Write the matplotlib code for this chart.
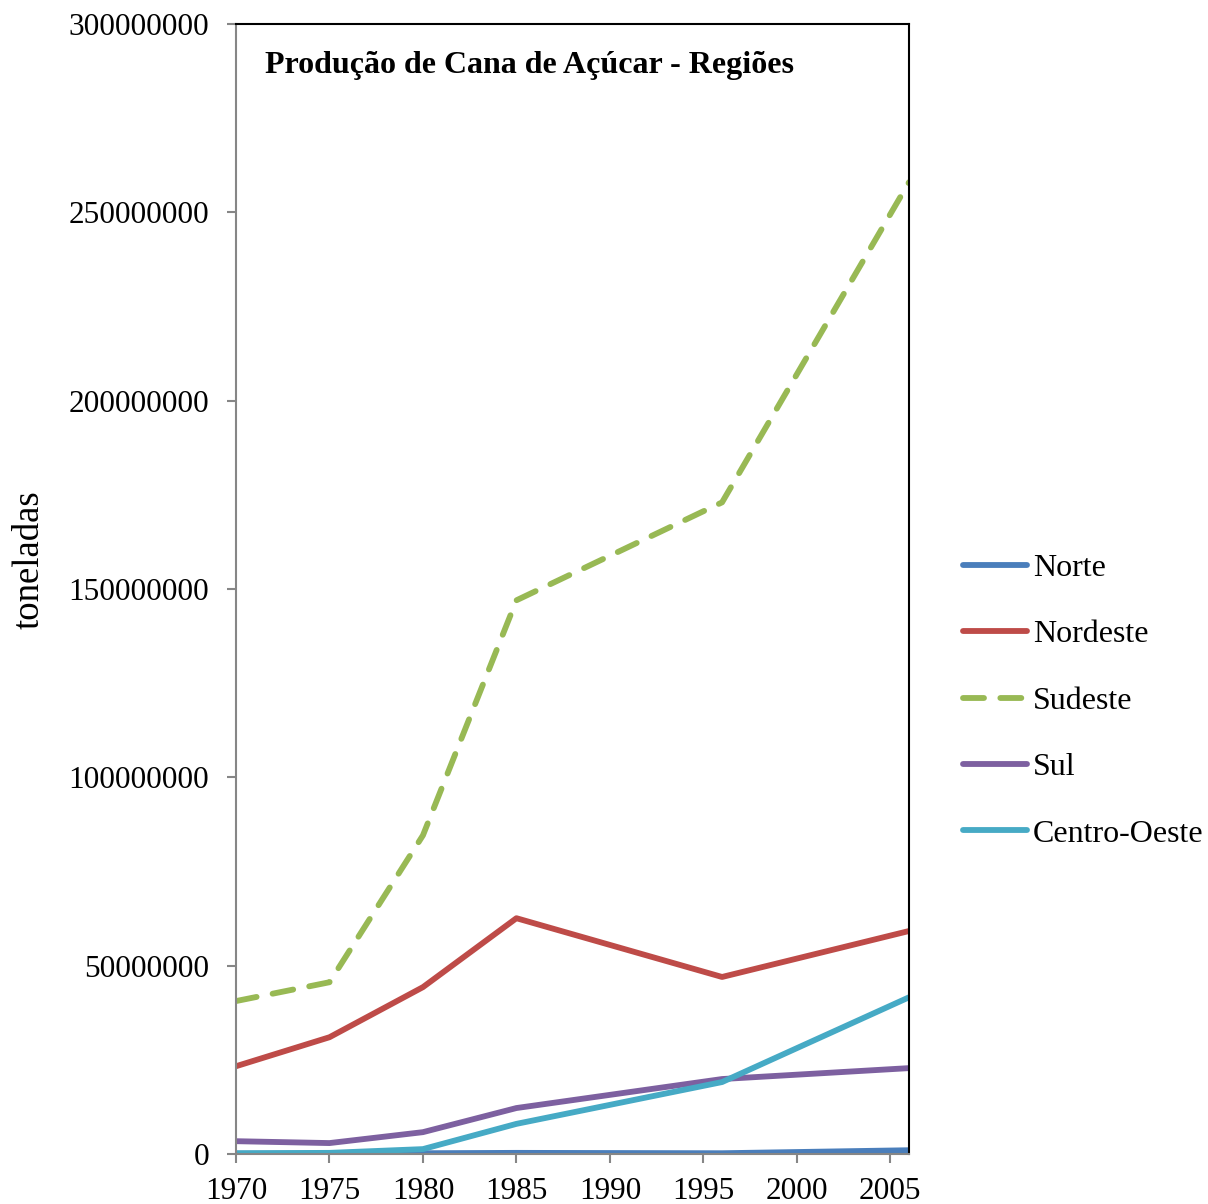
import matplotlib.pyplot as plt

# anos dos censos agropecuarios
years = [1970, 1975, 1980, 1985, 1996, 2006]

norte = [100000, 120000, 200000, 300000, 200000, 1000000]
nordeste = [23300000, 31000000, 44300000, 62600000, 47000000, 59200000]
sudeste = [40600000, 45600000, 84600000, 147000000, 173000000, 258000000]
sul = [3400000, 2900000, 5800000, 12200000, 19900000, 22800000]
centro_oeste = [200000, 300000, 1300000, 8000000, 19100000, 41600000]

regions = ["Norte", "Nordeste", "Sudeste", "Sul", "Centro-Oeste"]
colors = ["#4A7EBB", "#BE4B48", "#98B954", "#7D60A0", "#46AAC5"]

plt.rcParams["font.family"] = ["Liberation Serif", "DejaVu Serif"]

fig = plt.figure(figsize=(12.08, 12.04), dpi=100)
ax = fig.add_axes([236 / 1208, 50 / 1204, (909 - 236) / 1208, (1154 - 24) / 1204])

series = [norte, nordeste, sudeste, sul, centro_oeste]
for name, vals, c in zip(regions, series, colors):
    if name == "Sudeste":
        ax.plot(years, vals, color=c, lw=4.2, linestyle=(0, (3.6, 2.8)),
                dash_capstyle="round", label=name)
    else:
        ax.plot(years, vals, color=c, lw=4.2, solid_capstyle="round", label=name)

ax.set_xlim(1970, 2006)
ax.set_ylim(0, 300000000)
ax.set_xticks(range(1970, 2006, 5))
ax.set_yticks(range(0, 300000001, 50000000))
ax.set_yticklabels([str(v) for v in range(0, 300000001, 50000000)])

for s in ["left", "bottom"]:
    ax.spines[s].set_color("#868686")
    ax.spines[s].set_linewidth(1.5)
for s in ["top", "right"]:
    ax.spines[s].set_color("black")
    ax.spines[s].set_linewidth(1.5)

ax.tick_params(axis="both", colors="#868686", labelcolor="black",
               labelsize=22.5, length=6.5, width=1.5, direction="out")
ax.tick_params(axis="x", pad=10)
ax.tick_params(axis="y", pad=13)

ax.set_ylabel("toneladas", fontsize=26.5)
ax.yaxis.set_label_coords(-0.281, 0.526)

ax.text(0.043, 0.976, "Produção de Cana de Açúcar - Regiões", transform=ax.transAxes,
        fontsize=23, fontweight="bold", va="top", ha="left")

fig.legend(loc="center left", bbox_to_anchor=(934 / 1208, 1 - 701 / 1204),
           frameon=False, fontsize=23, handlelength=2.0, labelspacing=1.16,
           handletextpad=0.2)

plt.savefig("out.png", dpi=100)
